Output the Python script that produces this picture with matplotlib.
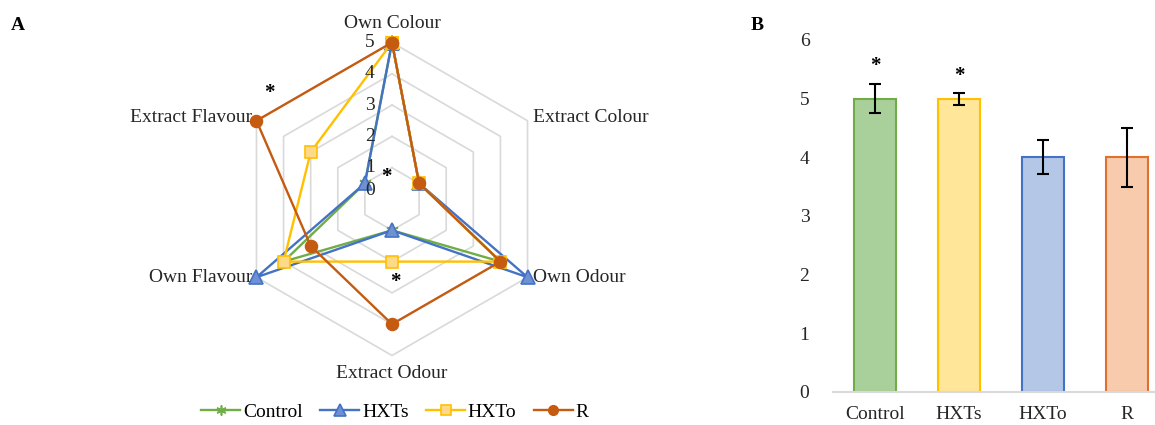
"""Sensory radar profile (A) and overall score bars (B)."""

import numpy
import matplotlib
matplotlib.use('Agg')
import matplotlib.pyplot

# data
ATTRIBUTES = ['Own Colour', 'Extract Colour', 'Own Odour',
              'Extract Odour', 'Own Flavour', 'Extract Flavour']
SAMPLES = ['Control', 'HXTs', 'HXTo', 'R']
CONTROL = [5, 1, 4, 1, 4, 1]
HXTS = [5, 1, 5, 1, 5, 1]
HXTO = [5, 1, 4, 2, 4, 3]
R_SCORES = [5, 1, 4, 4, 3, 5]
RADAR_STARS = [(5.18, 5.16), (5.745, 0.73), (2.966, 2.65)]  # (angle index, r)

BAR_VALUES = [5, 5, 4, 4]
BAR_ERRORS = [0.25, 0.1, 0.29, 0.5]
BAR_STARS = [5.55, 5.38]

SERIES_STYLE = [
    ('#70ad47', (6, 2, 0), '#70ad47', '#70ad47', 9),
    ('#4472c4', '^', '#6f90d2', '#4472c4', 10),
    ('#ffc000', 's', '#ffd98a', '#ffc000', 9),
    ('#c55a11', 'o', '#c55a11', '#c55a11', 8.5),
]
BAR_FACE = ['#a9d09a', '#ffe699', '#b4c7e7', '#f8cbad']
BAR_EDGE = ['#70ad47', '#ffc000', '#4472c4', '#e0702e']

matplotlib.pyplot.rcParams['font.family'] = ['Liberation Serif', 'DejaVu Serif']

figure = matplotlib.pyplot.figure(figsize=(11.55, 4.25), dpi=100)

# --- panel A: radar
axis = figure.add_axes([235.5 / 1155, 69.5 / 425, 313 / 1155, 313 / 425],
                       projection='polar')
axis.set_theta_zero_location('N')
axis.set_theta_direction(-1)
angles = numpy.arange(len(ATTRIBUTES)) * 2 * numpy.pi / len(ATTRIBUTES)
closed = numpy.append(angles, angles[0])

for ring in range(1, 6):
    axis.plot(closed, [ring] * len(closed), color='#d9d9d9', lw=1.2, zorder=1,
              clip_on=False)

for values, name, (col, mk, fc, ec, ms) in zip(
        [CONTROL, HXTS, HXTO, R_SCORES], SAMPLES, SERIES_STYLE):
    axis.plot(closed, values + values[:1], color=col, lw=1.7, marker=mk,
              markersize=ms, markerfacecolor=fc, markeredgecolor=ec,
              markeredgewidth=1.2, label=name, zorder=3, clip_on=False)

axis.set_ylim(0, 5)
axis.grid(False)
axis.spines['polar'].set_visible(False)
axis.set_xticks([])
axis.set_yticks([])
axis.patch.set_alpha(0)

for ring in range(6):
    lift = 6 if ring == 0 else 0
    axis.annotate(str(ring), xy=(0, ring), xytext=(-16, lift),
                  textcoords='offset points', ha='center', va='center',
                  fontsize=14, color='#262626', zorder=5)

label_offsets = [((0, 14), 'center', 'center'),
                 ((4, 2), 'left', 'center'),
                 ((4, 0), 'left', 'center'),
                 ((0, -13), 'center', 'center'),
                 ((-3, 0), 'right', 'center'),
                 ((-3, 2), 'right', 'center')]
for ang, name, (off, ha, va) in zip(angles, ATTRIBUTES, label_offsets):
    axis.annotate(name, xy=(ang, 5), xytext=off, textcoords='offset points',
                  ha=ha, va=va, fontsize=14, color='#262626',
                  annotation_clip=False, zorder=5)

for idx, rad in RADAR_STARS:
    axis.text(idx * numpy.pi / 3, rad, '*', ha='center', va='center',
              fontsize=15, fontweight='bold', color='black', zorder=5)

handles, labels = axis.get_legend_handles_labels()
figure.legend(handles, labels, loc='center', bbox_to_anchor=(395 / 1155, 13 / 425),
              ncol=4, frameon=False, fontsize=14, handlelength=2.0,
              columnspacing=0.9, handletextpad=0.15, markerscale=0.8)

# --- panel B: bars
bars = figure.add_axes([833 / 1155, 33 / 425, 322 / 1155, 352 / 425])
positions = numpy.arange(len(SAMPLES))
bars.bar(positions, BAR_VALUES, width=0.5, color=BAR_FACE,
         edgecolor=BAR_EDGE, linewidth=1.5, zorder=2)
bars.errorbar(positions, BAR_VALUES, yerr=BAR_ERRORS, fmt='none',
              ecolor='black', elinewidth=1.5, capsize=4, capthick=1.5,
              zorder=3)
for pos, height in zip(positions, BAR_STARS):
    bars.text(pos, height, '*', ha='center', va='center', fontsize=15,
              fontweight='bold')
bars.set_xlim(-0.5, 3.33)
bars.set_ylim(0, 6)
bars.set_xticks(positions)
bars.set_xticklabels(SAMPLES)
bars.set_yticks(range(7))
bars.tick_params(length=0, labelsize=14, colors='#262626')
bars.tick_params(axis='y', pad=17)
bars.tick_params(axis='x', pad=10)
for side in ['left', 'right', 'top']:
    bars.spines[side].set_visible(False)
bars.spines['bottom'].set_color('#d9d9d9')
bars.spines['bottom'].set_linewidth(1.5)

figure.text(18 / 1155, 1 - 25 / 425, 'A', fontsize=14, fontweight='bold',
            ha='center', va='center')
figure.text(757 / 1155, 1 - 25 / 425, 'B', fontsize=14, fontweight='bold',
            ha='center', va='center')

figure.savefig('out.png', dpi=100)
